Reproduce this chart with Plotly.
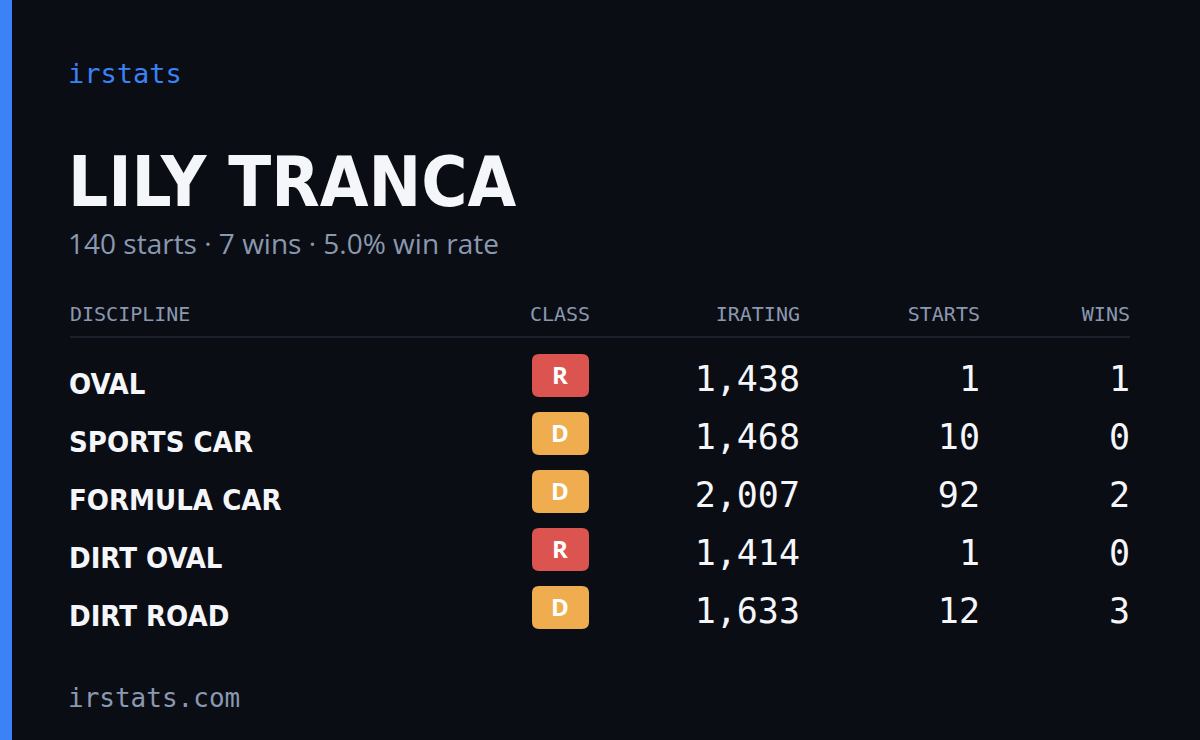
import plotly.graph_objects as go

disciplines = ["OVAL", "SPORTS CAR", "FORMULA CAR", "DIRT OVAL", "DIRT ROAD"]
classes = ["R", "D", "D", "R", "D"]
iratings = [1438, 1468, 2007, 1414, 1633]
starts = [1, 10, 92, 1, 12]
wins = [1, 0, 2, 0, 3]
headers = ["DISCIPLINE", "CLASS", "IRATING", "STARTS", "WINS"]

driver = "LILY TRANCA"
total_starts = 140
total_wins = 7

BG = "#0a0d14"
MUTED = "#8a98b0"
WHITE = "#f5f6fa"
CLASS_COLORS = {"R": "#dc5450", "D": "#f0ad50"}
MONO = "DejaVu Sans Mono"
COND = "DejaVu Sans Condensed"

row_y = [376 + 58 * i for i in range(len(disciplines))]


def rounded_rect(x0, y0, x1, y1, r):
    return (f"M{x0 + r},{y0} L{x1 - r},{y0} Q{x1},{y0} {x1},{y0 + r} "
            f"L{x1},{y1 - r} Q{x1},{y1} {x1 - r},{y1} L{x0 + r},{y1} "
            f"Q{x0},{y1} {x0},{y1 - r} L{x0},{y0 + r} Q{x0},{y0} {x0 + r},{y0} Z")


fig = go.Figure()

# header row
hx = [70, 560, 800, 980, 1130]
hpos = ["middle right", "middle center", "middle left", "middle left", "middle left"]
for x, h, p in zip(hx, headers, hpos):
    fig.add_trace(go.Scatter(x=[x], y=[316], text=[h], mode="text", textposition=p,
                             textfont=dict(family=MONO, size=20, color=MUTED)))

# class badges
for y, c in zip(row_y, classes):
    fig.add_shape(type="path", path=rounded_rect(532, y - 22, 589, y + 21, 7),
                  fillcolor=CLASS_COLORS[c], line_width=0, layer="below")
fig.add_trace(go.Scatter(x=[560] * len(classes), y=[y + 2 for y in row_y], text=classes,
                         mode="text", textposition="middle center",
                         textfont=dict(family="Open Sans", size=24, color="white", weight="bold")))

fig.add_trace(go.Scatter(x=[69] * len(disciplines), y=[y + 11 for y in row_y], text=disciplines,
                         mode="text", textposition="middle right",
                         textfont=dict(family=COND, size=29, color=WHITE, weight="bold")))
for x, vals in [(800, iratings), (980, starts), (1130, wins)]:
    fig.add_trace(go.Scatter(x=[x] * len(vals), y=[y + 6 for y in row_y],
                             text=[f"{v:,}" for v in vals],
                             mode="text", textposition="middle left",
                             textfont=dict(family=MONO, size=35, color=WHITE)))

fig.add_shape(type="rect", x0=0, x1=12, y0=0, y1=740, fillcolor="#3b82f6", line_width=0)
fig.add_shape(type="line", x0=70, x1=1130, y0=337, y1=337, line=dict(color="#1b202c", width=2))

texts = [
    (76, "irstats", dict(family=MONO, size=27, color="#3b82f6")),
    (188, driver, dict(family=COND, size=70, color=WHITE, weight="bold")),
    (247, f"{total_starts} starts · {total_wins} wins · {total_wins / total_starts * 100:.1f}% win rate",
     dict(family="Open Sans", size=28, color=MUTED)),
    (700, "irstats.com", dict(family=MONO, size=26, color=MUTED)),
]
for y, t, f in texts:
    fig.add_trace(go.Scatter(x=[68], y=[y], text=[t], mode="text",
                             textposition="middle right", textfont=f))

fig.update_layout(width=1200, height=740, margin=dict(l=0, r=0, t=0, b=0),
                  paper_bgcolor=BG, plot_bgcolor=BG, showlegend=False,
                  xaxis=dict(range=[0, 1200], visible=False, fixedrange=True),
                  yaxis=dict(range=[740, 0], visible=False, fixedrange=True))
fig.write_html("out.html", config={"displayModeBar": False},
               post_script="document.body.style.margin='0';document.body.style.background='#0a0d14';")
